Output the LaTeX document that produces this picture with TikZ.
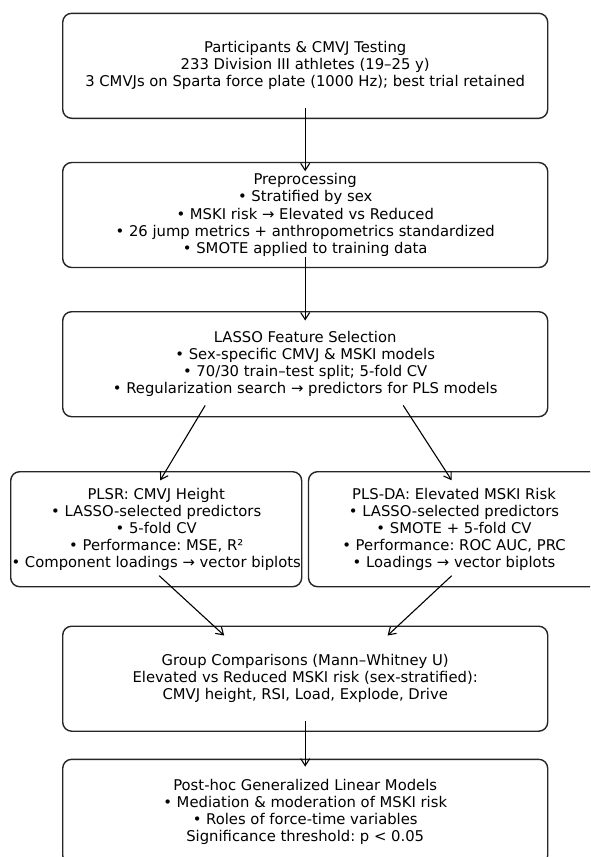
\documentclass[tikz,border=0pt]{standalone}
\usepackage{fontspec}
\setmainfont{DejaVu Sans}
\frenchspacing
\usetikzlibrary{arrows.meta}
\tikzset{
	stagebox/.style={draw=black!85, line width=1.4pt, rounded corners=9pt, inner sep=0pt, align=center, font=\fontsize{14.8}{17.1}\selectfont},
	widebox/.style={stagebox, minimum width=485pt, minimum height=105pt},
	halfbox/.style={stagebox, minimum width=291pt, minimum height=115pt},
	flowarrow/.style={draw=black, line width=1.1pt, -{Straight Barb[length=7pt,width=9pt]}}
}

\begin{document}
\begin{tikzpicture}[x=1pt,y=-1pt]
			%%%%% START %%%%%
			
			\clip (0,0) rectangle (590,857);
			\fill[white] (0,0) rectangle (590,857);
			
			\node[widebox] (participants) at (305.2, 65.8) {Participants \& CMVJ Testing\\233 Division III athletes (19–25 y)\\3 CMVJs on Sparta force plate (1000 Hz); best trial retained};
			
			\node[widebox] (preproc) at (305.2, 215) {Preprocessing\\• Stratified by sex\\• MSKI risk → Elevated vs Reduced\\• 26 jump metrics + anthropometrics standardized\\• SMOTE applied to training data};
			
			\node[widebox] (lasso) at (305.2, 364.2) {LASSO Feature Selection\\• Sex-specific CMVJ \& MSKI models\\• 70/30 train–test split; 5-fold CV\\• Regularization search → predictors for PLS models};
			
			\node[halfbox] (plsr) at (156.2, 529.2) {PLSR: CMVJ Height\\• LASSO-selected predictors\\• 5-fold CV\\• Performance: MSE, R²\\• Component loadings → vector biplots};
			\node[halfbox] (plsda) at (454, 529.2) {PLS-DA: Elevated MSKI Risk\\• LASSO-selected predictors\\• SMOTE + 5-fold CV\\• Performance: ROC AUC, PRC\\• Loadings → vector biplots};
			
			\node[widebox] (groups) at (305.2, 678.7) {Group Comparisons (Mann–Whitney U)\\Elevated vs Reduced MSKI risk (sex-stratified):\\CMVJ height, RSI, Load, Explode, Drive};
			
			\node[widebox] (posthoc) at (305.2, 811.8) {Post-hoc Generalized Linear Models\\• Mediation \& moderation of MSKI risk\\• Roles of force-time variables\\Significance threshold: p < 0.05};
			
			% arrows
			\draw[flowarrow] ([yshift=11pt]participants.south) -- ([yshift=-9.5pt]preproc.north);
			\draw[flowarrow] ([yshift=11pt]preproc.south) -- ([yshift=-9.5pt]lasso.north);
			\draw[flowarrow] ([xshift=-100pt,yshift=12pt]lasso.south) -- ([xshift=4pt,yshift=-9.3pt]plsr.north);
			\draw[flowarrow] ([xshift=98pt,yshift=12pt]lasso.south) -- ([xshift=-2.3pt,yshift=-9.3pt]plsda.north);
			\draw[flowarrow] ([xshift=3pt,yshift=11.7pt]plsr.south) -- ([xshift=-81pt,yshift=-10pt]groups.north);
			\draw[flowarrow] ([xshift=-2.3pt,yshift=11.7pt]plsda.south) -- ([xshift=82.4pt,yshift=-10pt]groups.north);
			\draw[flowarrow] ([yshift=11pt]groups.south) -- ([yshift=-8pt]posthoc.north);
			
			%%%%% END %%%%%
\end{tikzpicture}
\end{document}
